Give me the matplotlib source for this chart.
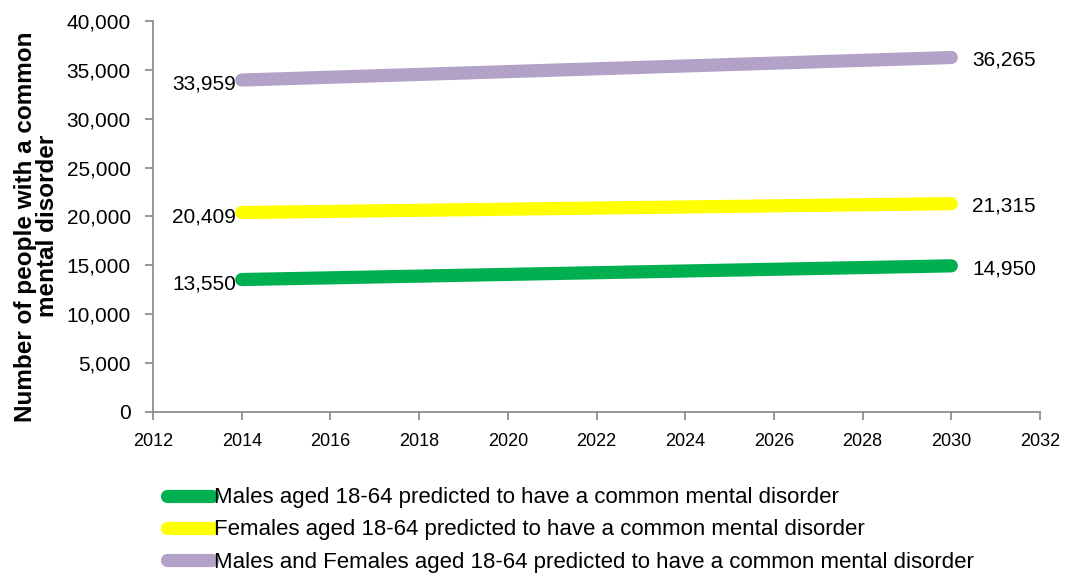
import matplotlib.pyplot as plt
from matplotlib.ticker import FuncFormatter

# 数据
years = [2014, 2030]
males = [13550, 14950]
females = [20409, 21315]
both = [33959, 36265]
series_names = ["Males aged 18-64 predicted to have a common mental disorder",
                "Females aged 18-64 predicted to have a common mental disorder",
                "Males and Females aged 18-64 predicted to have a common mental disorder"]
series_colors = ["#00B050", "#FFFF00", "#B3A2C7"]

plt.rcParams['font.family'] = ['Liberation Sans', 'DejaVu Sans']

fig = plt.figure(figsize=(10.68, 5.77), dpi=100)
ax = fig.add_axes([0.1433, 0.286, 0.8305, 0.6776])

lines = []
for vals, c, n in zip([males, females, both], series_colors, series_names):
    ln, = ax.plot(years, vals, color=c, lw=9.5, solid_capstyle='round', label=n)
    lines.append(ln)
    ax.annotate("{:,}".format(vals[0]), (years[0], vals[0]), xytext=(-4, -3),
                textcoords='offset points', ha='right', va='center', fontsize=15)
    ax.annotate("{:,}".format(vals[1]), (years[1], vals[1]), xytext=(15, -2),
                textcoords='offset points', ha='left', va='center', fontsize=15)

ax.set_xlim(2012, 2032)
ax.set_ylim(0, 40000)
ax.set_xticks(range(2012, 2033, 2))
ax.set_yticks(range(0, 40001, 5000))
ax.yaxis.set_major_formatter(FuncFormatter(lambda v, p: "{:,}".format(int(v))))
for s in ['top', 'right']:
    ax.spines[s].set_visible(False)
for s in ['left', 'bottom']:
    ax.spines[s].set_color('#868686')
    ax.spines[s].set_linewidth(1.2)
ax.tick_params(axis='both', colors='#868686', length=6, width=1.2)
ax.tick_params(axis='y', labelcolor='black', labelsize=15, pad=10)
ax.tick_params(axis='x', labelcolor='black', labelsize=13, pad=9)

ax.set_ylabel("Number of people with a common\nmental disorder", fontsize=17.5,
              fontweight='bold', linespacing=0.95)
ax.yaxis.set_label_coords(-0.106, 0.475)

leg = fig.legend(handles=lines, loc='upper left', bbox_to_anchor=(0.138, 0.19),
                 frameon=False, handlelength=2.0, handletextpad=0.1,
                 labelspacing=0.5, prop={'size': 16})

plt.savefig("out.png", dpi=100)
